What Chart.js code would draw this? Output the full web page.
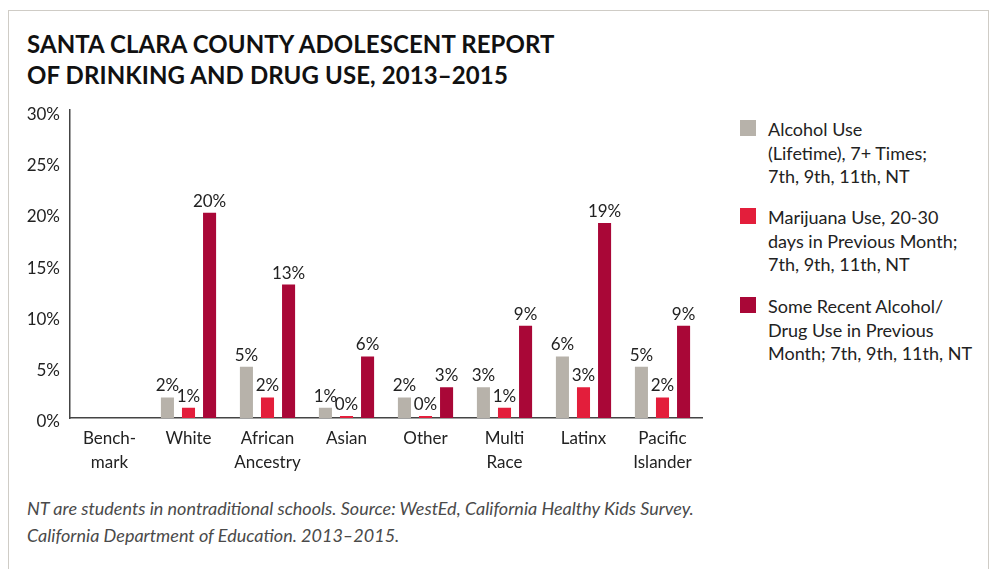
<!doctype html>
<html>
<head>
    <title>Santa Clara County Adolescent Report</title>
    <script src="https://cdn.jsdelivr.net/npm/chart.js@4.4.1/dist/chart.umd.min.js"></script>
    <style>
        body { margin: 0; background: #fff; font-family: Lato, sans-serif; color: #222; }
        #frame { position: absolute; left: 8px; top: 10px; width: 979px; height: 600px; border: 1.5px solid #cfccc6; border-bottom: none; }
        h1 { position: absolute; left: 27px; top: 28px; margin: 0; font-size: 24px; line-height: 31px; font-weight: 700; color: #111; letter-spacing: 0.1px; }
        #wrap { position: absolute; left: 0; top: 90px; width: 715px; height: 390px; }
        #legend { position: absolute; left: 740px; top: 118px; }
        .item { position: absolute; left: 0; width: 240px; }
        .sw { position: absolute; left: 0; top: 2px; width: 16px; height: 16px; }
        .txt { position: absolute; left: 28px; top: 0; font-size: 18px; line-height: 23.5px; white-space: nowrap; color: #222; }
        #note { position: absolute; left: 27px; top: 495px; font-size: 18px; line-height: 27px; font-style: italic; font-weight: 400; color: #4a4a4a; }
    </style>
</head>
<body>
    <div id="frame"></div>
    <h1>SANTA CLARA COUNTY ADOLESCENT REPORT<br>OF DRINKING AND DRUG USE, 2013–2015</h1>
    <div id="wrap"><canvas id="myChart" width="715" height="390"></canvas></div>
    <div id="legend"></div>
    <div id="note">NT are students in nontraditional schools. Source: WestEd, California Healthy Kids Survey.<br>California Department of Education. 2013–2015.</div>
    <script>
    var categories = [['Bench-', 'mark'], 'White', ['African', 'Ancestry'], 'Asian', 'Other', ['Multi', 'Race'], 'Latinx', ['Pacific', 'Islander']];
    var seriesNames = [
        ['Alcohol Use', '(Lifetime), 7+ Times;', '7th, 9th, 11th, NT'],
        ['Marijuana Use, 20-30', 'days in Previous Month;', '7th, 9th, 11th, NT'],
        ['Some Recent Alcohol/', 'Drug Use in Previous', 'Month; 7th, 9th, 11th, NT']
    ];
    var alcohol = [null, 2, 5, 1, 2, 3, 6, 5];
    var marijuana = [null, 1, 2, 0, 0, 1, 3, 2];
    var recent = [null, 20, 13, 6, 3, 9, 19, 9];
    var yTicks = [0, 5, 10, 15, 20, 25, 30];
    var colors = ['#b7b2aa', '#e31e3b', '#a90737'];

    // legend as html so the labels can wrap like the original
    var legend = document.getElementById('legend');
    seriesNames.forEach(function(lines, i) {
        var d = document.createElement('div');
        d.className = 'item';
        d.style.top = [0, 88, 177][i] + 'px';
        d.innerHTML = '<div class="sw" style="background:' + colors[i] + '"></div><div class="txt">' + lines.join('<br>') + '</div>';
        legend.appendChild(d);
    });

    var valueLabels = {
        id: 'valueLabels',
        afterDatasetsDraw: function(chart) {
            var ctx = chart.ctx;
            ctx.save();
            ctx.font = '17px Lato';
            ctx.fillStyle = '#222';
            ctx.textAlign = 'center';
            ctx.textBaseline = 'bottom';
            chart.data.datasets.forEach(function(ds, i) {
                chart.getDatasetMeta(i).data.forEach(function(bar, j) {
                    if (ds.data[j] === null) return;
                    ctx.fillText(ds.data[j] + '%', bar.x, bar.y - 3);
                });
            });
            ctx.restore();
        }
    };

    var ctx = document.getElementById('myChart').getContext('2d');
    new Chart(ctx, {
        type: 'bar',
        data: {
            labels: categories,
            datasets: [
                { label: seriesNames[0].join(' '), data: alcohol, backgroundColor: colors[0] },
                { label: seriesNames[1].join(' '), data: marijuana, backgroundColor: colors[1], minBarLength: 2 },
                { label: seriesNames[2].join(' '), data: recent, backgroundColor: colors[2] }
            ]
        },
        options: {
            responsive: false,
            animation: false,
            layout: { padding: { left: 10, right: 13, top: 20, bottom: 0 } },
            datasets: { bar: { barPercentage: 0.62, categoryPercentage: 0.8 } },
            plugins: { legend: { display: false }, tooltip: { enabled: false } },
            scales: {
                x: {
                    grid: { display: false, drawTicks: false },
                    border: { display: true, color: '#444', width: 1.5 },
                    ticks: { color: '#222', font: { family: 'Lato', size: 17, lineHeight: 1.4 }, padding: 9, maxRotation: 0, autoSkip: false },
                    afterFit: function(s) { s.height = 62; }
                },
                y: {
                    min: 0, max: 30,
                    grid: { display: false, drawTicks: false },
                    border: { display: true, color: '#444', width: 1.5 },
                    afterBuildTicks: function(s) { s.ticks = yTicks.map(function(v) { return { value: v }; }); },
                    ticks: { color: '#222', font: { family: 'Lato', size: 17 }, padding: 10, labelOffset: 4, callback: function(v) { return v + '%'; } },
                    afterFit: function(s) { s.width = 60; }
                }
            }
        },
        plugins: [valueLabels]
    });
    </script>
</body>
</html>
